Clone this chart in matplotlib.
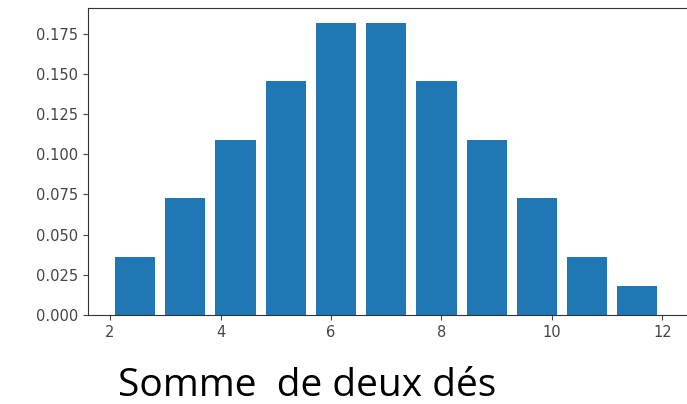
import numpy as np
import matplotlib
matplotlib.use("Agg")
import matplotlib.pyplot as plt

# sum of two dice: histogram, 11 bins between 2 and 12
sums = [2, 3, 4, 5, 6, 7, 8, 9, 10, 11, 12]
heights = [0.0364, 0.0727, 0.1091, 0.1455, 0.1818, 0.1818,
           0.1455, 0.1091, 0.0727, 0.0364, 0.0182]
yticks = [0.0, 0.025, 0.05, 0.075, 0.1, 0.125, 0.15, 0.175]
caption = "Somme  de deux dés"

fig = plt.figure(figsize=(6.87, 4.04), dpi=100)
ax = fig.add_axes([0.128, 0.22, 0.87, 0.76])

edges = np.linspace(min(sums), max(sums), len(sums) + 1)
w = edges[1] - edges[0]
ax.bar(edges[:-1] + 0.1 * w, heights, width=0.8 * w, align="edge",
       color="#1f77b4")

ax.set_yticks(yticks)
ax.set_yticklabels(["%.3f" % v for v in yticks])
ax.set_xticks([2, 4, 6, 8, 10, 12])
ax.tick_params(labelsize=10.5, colors="#444444")
for s in ax.spines.values():
    s.set_color("#333333")
ax.spines["right"].set_visible(False)
ax.set_xlim(1.6, 12.42)

fig.text(0.172, 0.02, caption, fontsize=28, family="Open Sans",
         va="baseline")

fig.savefig("out.png", dpi=100)
